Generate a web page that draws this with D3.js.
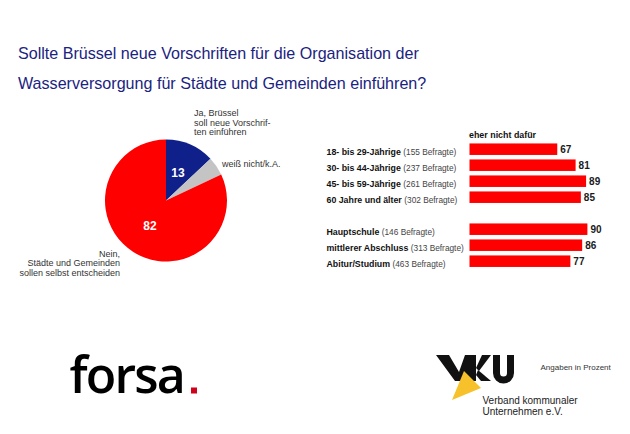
<!DOCTYPE html>
<html><head><meta charset="utf-8">
<script src="https://cdn.jsdelivr.net/npm/d3@7"></script>
<style>html,body{margin:0;padding:0;background:#fff}svg{display:block}</style>
</head><body>
<svg id="chart" width="630" height="434"></svg>
<script>
const titleLines = ["Sollte Brüssel neue Vorschriften für die Organisation der", "Wasserversorgung für Städte und Gemeinden einführen?"];
const pieCategories = ["Ja, Brüssel soll neue Vorschriften einführen", "weiß nicht/k.A.", "Nein, Städte und Gemeinden sollen selbst entscheiden"];
const pieValues = [13, 5, 82];
const pieShowValue = [true, false, true];
const barCategories = ["18- bis 29-Jährige", "30- bis 44-Jährige", "45- bis 59-Jährige", "60 Jahre und älter", "Hauptschule", "mittlerer Abschluss", "Abitur/Studium"];
const barRespondents = [155, 237, 261, 302, 146, 313, 463];
const barValues = [67, 81, 89, 85, 90, 86, 77];
const barHeader = "eher nicht dafür";
const barSlots = ["18- bis 29-Jährige", "30- bis 44-Jährige", "45- bis 59-Jährige", "60 Jahre und älter", "__gap__", "Hauptschule", "mittlerer Abschluss", "Abitur/Studium"];

const svg = d3.select("#chart");
const FONT = "'Liberation Sans', Arial, sans-serif";

// Title
svg.append("g").selectAll("text").data(titleLines).join("text")
  .attr("x", 18).attr("y", (d, i) => 58.5 + i * 30)
  .attr("font-family", FONT).attr("font-size", 16.1).attr("fill", "#1b2380")
  .text(d => d);

// Pie
const pieColors = ["#10208a", "#c4c4c4", "#ff0000"];
const pie = d3.pie().sort(null).value(d => d)(pieValues);
const arc = d3.arc().innerRadius(0).outerRadius(61);
const labelArc = d3.arc().innerRadius(30).outerRadius(30);
const pg = svg.append("g").attr("transform", "translate(166,200.5)");
pg.selectAll("path").data(pie).join("path")
  .attr("d", arc).attr("fill", (d, i) => pieColors[i]);
pg.selectAll("text").data(pie.filter((d, i) => pieShowValue[i])).join("text")
  .attr("transform", d => `translate(${labelArc.centroid(d)})`)
  .attr("text-anchor", "middle").attr("dy", "0.36em")
  .attr("font-family", FONT).attr("font-weight", "bold").attr("font-size", 12).attr("fill", "#fff")
  .text(d => d.value);

function multiLine(lines, x, y, anchor) {
  svg.append("g").selectAll("text").data(lines).join("text")
    .attr("x", x).attr("y", (d, i) => y + i * 9.5)
    .attr("text-anchor", anchor)
    .attr("font-family", FONT).attr("font-size", 9).attr("fill", "#333")
    .text(d => d);
}
multiLine(["Ja, Brüssel", "soll neue Vorschrif-", "ten einführen"], 194, 116, "start");
multiLine([pieCategories[1]], 222, 167, "start");
multiLine(["Nein,", "Städte und Gemeinden", "sollen selbst entscheiden"], 120, 256.5, "end");

// Bars
const x = d3.scaleLinear().domain([0, 100]).range([469.5, 600.5]);
const y = d3.scaleBand().domain(barSlots).range([141.2, 269.2]).paddingInner(0.28).paddingOuter(0.14);
const bg = svg.append("g");
bg.append("text").attr("x", 469).attr("y", 137.7)
  .attr("font-family", FONT).attr("font-weight", "bold").attr("font-size", 8.9).attr("fill", "#111")
  .text(barHeader);
const rows = barCategories.map((c, i) => ({c, n: barRespondents[i], v: barValues[i]}));
bg.selectAll("rect").data(rows).join("rect")
  .attr("x", x(0)).attr("y", d => y(d.c))
  .attr("width", d => x(d.v) - x(0)).attr("height", y.bandwidth())
  .attr("fill", "#ff0000");
bg.selectAll("text.val").data(rows).join("text").attr("class", "val")
  .attr("x", d => x(d.v) + 3).attr("y", d => y(d.c) + y.bandwidth() / 2).attr("dy", "0.36em")
  .attr("font-family", FONT).attr("font-weight", "bold").attr("font-size", 10).attr("fill", "#1a1a1a")
  .text(d => d.v);
const lab = bg.selectAll("text.lab").data(rows).join("text").attr("class", "lab")
  .attr("x", 326.5).attr("y", d => y(d.c) + y.bandwidth() / 2).attr("dy", "0.36em")
  .attr("font-family", FONT).attr("fill", "#111");
lab.append("tspan").attr("font-weight", "bold").attr("font-size", 8.8).text(d => d.c + " ");
lab.append("tspan").attr("font-size", 8.3).attr("fill", "#444").text(d => `(${d.n} Befragte)`);

// forsa logo
svg.append("text").attr("x", 69.5).attr("y", 393)
  .attr("font-family", "'Open Sans', sans-serif").attr("font-size", 50).attr("font-weight", 600).attr("fill", "#000")
  .attr("letter-spacing", -1.8)
  .text("forsa");
svg.append("rect").attr("x", 191).attr("y", 387.5).attr("width", 6).attr("height", 6).attr("fill", "#d0021b");

// VKU logo
const lg = svg.append("g");
lg.append("polygon").attr("points", "436,355 449,355 459,372 465,355 476,355 476,381 455,381").attr("fill", "#111");
lg.append("polygon").attr("points", "476,368 482,355 491,355 479,371").attr("fill", "#111");
lg.append("polygon").attr("points", "478,370 491,381 481,381 476,375").attr("fill", "#111");
lg.append("polygon").attr("points", "464,371 452,400 481,388").attr("fill", "#f7c12b");
lg.append("path").attr("d", "M496.5,355 V373 A7,7 0 0 0 510.5,373 V355")
  .attr("fill", "none").attr("stroke", "#111").attr("stroke-width", 7);
lg.selectAll("text.vku").data(["Verband kommunaler", "Unternehmen e.V."]).join("text").attr("class", "vku")
  .attr("x", 482.5).attr("y", (d, i) => 404 + i * 10.5)
  .attr("font-family", FONT).attr("font-size", 10).attr("fill", "#222")
  .text(d => d);
svg.append("text").attr("x", 540.5).attr("y", 369.5)
  .attr("font-family", FONT).attr("font-size", 8).attr("fill", "#333")
  .text("Angaben in Prozent");
</script>
</body></html>
